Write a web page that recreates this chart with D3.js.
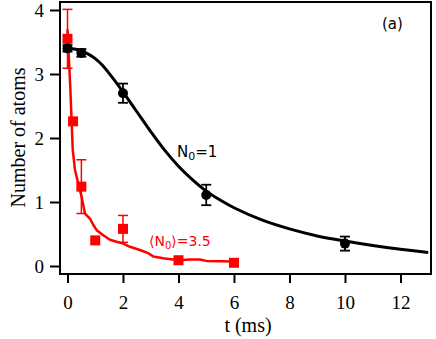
<!DOCTYPE html>
<html><head><meta charset="utf-8">
<script src="https://cdn.jsdelivr.net/npm/d3@7"></script>
<style>body{margin:0;background:#fff}</style>
</head><body>
<svg id="c" width="436" height="339"></svg>
<script>
const xTicks = [0,2,4,6,8,10,12];
const yTicks = [0,1,2,3,4];
// single-atom (N0=1) data: t, N, err
const blackT = [0, 0.5, 2, 5, 10];
const blackN = [3.40, 3.33, 2.70, 1.11, 0.35];
const blackE = [0.05, 0.06, 0.15, 0.16, 0.11];
// fit curve (N0=1)
const blackCurveT = [0,0.25,0.5,0.75,1,1.25,1.5,1.75,2,2.5,3,3.5,4,4.5,5,5.5,6,7,8,9,10,11,12,13];
const blackCurveN = [3.40,3.39,3.36,3.31,3.24,3.14,3.01,2.87,2.72,2.41,2.10,1.81,1.56,1.35,1.17,1.03,0.91,0.72,0.58,0.47,0.39,0.32,0.26,0.21];
// multi-atom (<N0>=3.5) data
const redT = [0, 0.2, 0.5, 1, 2, 4, 6];
const redN = [3.55, 2.26, 1.24, 0.40, 0.58, 0.09, 0.05];
const redE = [0.46, 0, 0.42, 0, 0.21, 0, 0];
// simulation curve (<N0>=3.5)
const redCurveT = [0,0.1,0.19,0.27,0.39,0.51,0.63,0.81,0.93,1.05,1.29,1.53,1.77,2.01,2.25,2.61,2.91,3.09,3.45,4.02,4.4,4.77,5.0,5.5,6.04];
const redCurveN = [3.7,2.8,1.81,1.5,1.29,1.08,0.82,0.74,0.64,0.56,0.48,0.41,0.38,0.35,0.30,0.25,0.20,0.15,0.12,0.09,0.10,0.10,0.08,0.075,0.07];

const SERIF = "Liberation Serif";
const SANS = "DejaVu Sans";

const svg = d3.select('#c');
const L=60, R=431, T=2, B=274;
const x = d3.scaleLinear().domain([-0.27,13.1]).range([L,R]);
const y = d3.scaleLinear().domain([-0.125,4.125]).range([B,T]);

// frame
svg.append('rect').attr('x',L).attr('y',T).attr('width',R-L).attr('height',B-T)
  .attr('fill','none').attr('stroke','#000').attr('stroke-width',2);

const xAxis = svg.append('g').attr('transform',`translate(0,${B})`)
  .call(d3.axisBottom(x).tickValues(xTicks).tickFormat(d3.format('d')).tickSize(9).tickSizeOuter(0));
const yAxis = svg.append('g').attr('transform',`translate(${L},0)`)
  .call(d3.axisLeft(y).tickValues(yTicks).tickFormat(d3.format('d')).tickSize(10).tickSizeOuter(0).tickPadding(6));
[xAxis,yAxis].forEach(g=>{
  g.attr('font-family',SERIF).attr('font-size',19);
  g.select('.domain').remove();
  g.selectAll('line').attr('stroke','#000').attr('stroke-width',2);
  g.selectAll('text').attr('font-family',SERIF).attr('font-size',19).attr('fill','#000');
});
xAxis.selectAll('text').attr('y',35).attr('dy',null);

svg.append('text').attr('x',248).attr('y',332).attr('text-anchor','middle')
  .attr('font-family',SERIF).attr('font-size',20).text('t (ms)');
svg.append('text').attr('transform','translate(25,137.5) rotate(-90)').attr('text-anchor','middle')
  .attr('font-family',SERIF).attr('font-size',20).text('Number of atoms');

// curves
svg.append('path').datum(blackCurveT.map((t,i)=>[t,blackCurveN[i]]))
  .attr('d',d3.line().x(d=>x(d[0])).y(d=>y(d[1])).curve(d3.curveCatmullRom))
  .attr('fill','none').attr('stroke','#000').attr('stroke-width',3);
svg.append('path').datum(redCurveT.map((t,i)=>[t,redCurveN[i]]))
  .attr('d',d3.line().x(d=>x(d[0])).y(d=>y(d[1])))
  .attr('fill','none').attr('stroke','#f00').attr('stroke-width',2.5).attr('stroke-linejoin','round');

// error bars
function errBars(ts,ns,es,color,w){
  const g = svg.append('g').attr('stroke',color).attr('stroke-width',w);
  ts.forEach((t,i)=>{
    if(!es[i]) return;
    const cx=x(t), y1=y(ns[i]-es[i]), y2=y(ns[i]+es[i]);
    g.append('line').attr('x1',cx).attr('x2',cx).attr('y1',y1).attr('y2',y2);
    g.append('line').attr('x1',cx-5).attr('x2',cx+5).attr('y1',y1).attr('y2',y1);
    g.append('line').attr('x1',cx-5).attr('x2',cx+5).attr('y1',y2).attr('y2',y2);
  });
}
errBars(redT,redN,redE,'#f00',1.5);
errBars(blackT,blackN,blackE,'#000',1.8);

// markers
svg.append('g').selectAll('rect').data(redT.map((t,i)=>[t,redN[i]])).join('rect')
  .attr('x',d=>x(d[0])-5).attr('y',d=>y(d[1])-5).attr('width',10).attr('height',10).attr('fill','#f00');
svg.append('g').selectAll('circle').data(blackT.map((t,i)=>[t,blackN[i]])).join('circle')
  .attr('cx',d=>x(d[0])).attr('cy',d=>y(d[1])).attr('r',5).attr('fill','#000');

// annotations
const n1 = svg.append('text').attr('x',177).attr('y',157).attr('font-family',SANS).attr('font-size',15).attr('fill','#000');
n1.append('tspan').text('N');
n1.append('tspan').attr('font-size',11).attr('dy',3).text('0');
n1.append('tspan').attr('dy',-3).text('=1');

const n2 = svg.append('text').attr('x',149).attr('y',246).attr('font-family',SANS).attr('font-size',14).attr('fill','#f00');
n2.append('tspan').text('\u27E8N');
n2.append('tspan').attr('font-size',10).attr('dy',3).text('0');
n2.append('tspan').attr('dy',-3).text('\u27E9=3.5');

svg.append('text').attr('x',382).attr('y',29).attr('font-family',SANS).attr('font-size',15).text('(a)');
</script>
</body></html>
